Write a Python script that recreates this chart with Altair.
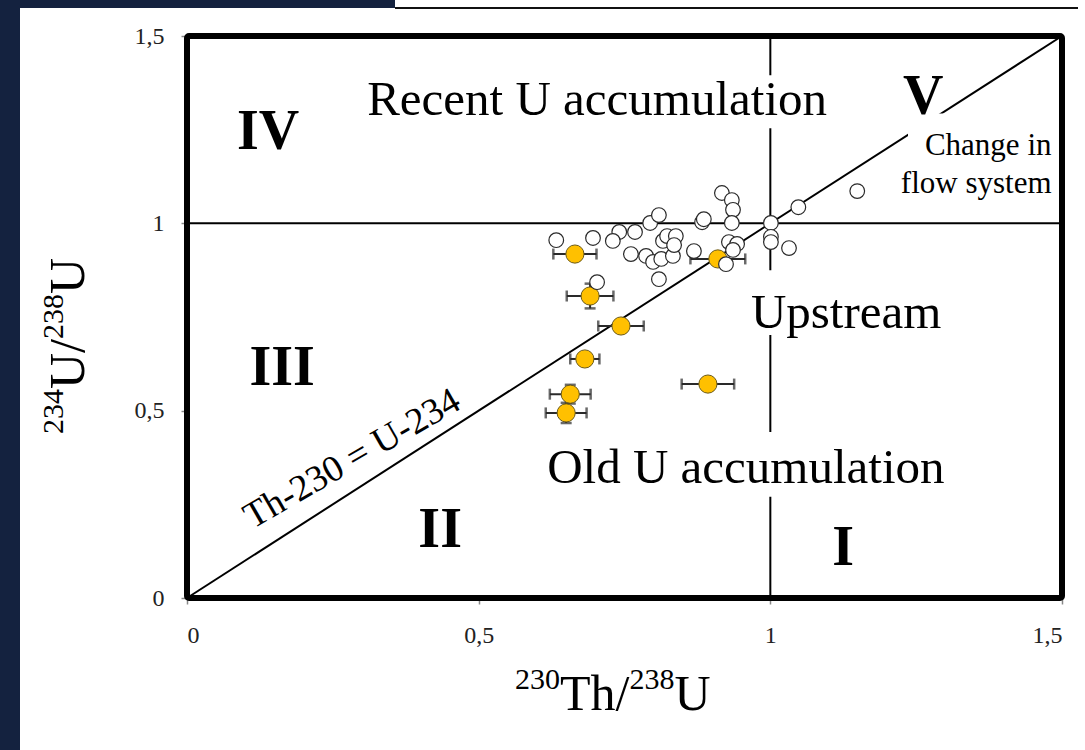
import altair as alt
import pandas as pd

# ---------------- data ----------------
# samples with error bars (orange)
th_orange = [0.665, 0.691, 0.744, 0.682, 0.657, 0.650, 0.893, 0.910]
u_orange = [0.918, 0.806, 0.726, 0.638, 0.544, 0.494, 0.571, 0.905]
th_err = [0.037, 0.040, 0.039, 0.025, 0.035, 0.035, 0.045, 0.047]
u_err = [0.0, 0.033, 0.0, 0.0, 0.025, 0.027, 0.0, 0.0]

# other samples (open circles)
th_open = [0.633, 0.696, 0.741, 0.730, 0.768, 0.794, 0.809, 0.761, 0.787, 0.799,
           0.813, 0.833, 0.816, 0.823, 0.838, 0.835, 0.809, 0.869, 0.883, 0.886,
           0.917, 0.934, 0.936, 0.934, 0.929, 0.943, 0.936, 0.924, 1.001, 1.001,
           1.001, 1.032, 1.048, 1.149, 0.703]
u_open = [0.955, 0.961, 0.977, 0.953, 0.977, 1.001, 1.022, 0.918, 0.913, 0.897,
          0.905, 0.913, 0.953, 0.966, 0.966, 0.942, 0.851, 0.926, 1.003, 1.011,
          1.081, 1.062, 1.036, 1.001, 0.950, 0.945, 0.929, 0.891, 1.001, 0.964,
          0.950, 0.934, 1.043, 1.086, 0.843]

# reference lines
line_x1 = [0.0, 1.0, 0.0]
line_y1 = [1.0, 0.0, 0.0]
line_x2 = [1.5, 1.0, 1.5]
line_y2 = [1.0, 1.5, 1.5]

# region labels
big_text = ["Recent U accumulation", "Upstream", "Old U accumulation"]
big_x = [0.703, 1.130, 0.958]
big_y = [1.329, 0.761, 0.347]

roman_text = ["IV", "V", "III", "II", "I"]
roman_x = [0.139, 1.262, 0.163, 0.434, 1.125]
roman_y = [1.244, 1.337, 0.614, 0.181, 0.133]

small_text = ["Change in", "flow system"]
small_x = [1.482, 1.482]
small_y = [1.206, 1.105]

diag_text = ["Th-230 = U-234"]
diag_x = [0.283]
diag_y = [0.371]

# white boxes behind the labels
box_x1 = [0.288, 0.957, 0.600, 1.236]
box_x2 = [1.116, 1.300, 1.300, 1.490]
box_y1 = [1.254, 0.702, 0.270, 1.062]
box_y2 = [1.395, 0.875, 0.443, 1.293]

x_ticks = [0, 0.5, 1, 1.5]
y_ticks = [0, 0.5, 1, 1.5]

# axis titles, split into mass numbers (superscript) and symbols
x_title_parts = ["230", "Th/", "238", "U"]
y_title_parts = ["234", "U/", "238", "U"]
title_is_sup = [True, False, True, False]

FONT = "Liberation Serif"
SUP_SIZE = 30
BIG_SIZE = 50

# ---------------- tables ----------------
orange = pd.DataFrame({"th": th_orange, "u": u_orange, "ex": th_err, "ey": u_err})
orange["th_lo"] = orange.th - orange.ex
orange["th_hi"] = orange.th + orange.ex
orange["u_lo"] = orange.u - orange.ey
orange["u_hi"] = orange.u + orange.ey
orange_v = orange[orange.ey > 0]
open_df = pd.DataFrame({"th": th_open, "u": u_open})
lines = pd.DataFrame({"x": line_x1, "y": line_y1, "x2": line_x2, "y2": line_y2})
boxes = pd.DataFrame({"x": box_x1, "x2": box_x2, "y": box_y1, "y2": box_y2})
big = pd.DataFrame({"x": big_x, "y": big_y, "t": big_text})
roman = pd.DataFrame({"x": roman_x, "y": roman_y, "t": roman_text})
small = pd.DataFrame({"x": small_x, "y": small_y, "t": small_text})
diag = pd.DataFrame({"x": diag_x, "y": diag_y, "t": diag_text})
frame = pd.DataFrame({"x": [0.0], "x2": [1.5], "y": [0.0], "y2": [1.5]})

xscale = alt.Scale(domain=[0, 1.5], nice=False, zero=False)
yscale = alt.Scale(domain=[0, 1.5], nice=False, zero=False)

label_expr = "replace(toString(datum.value), '.', ',')"

X = alt.X("x:Q", scale=xscale, axis=alt.Axis(values=x_ticks, labelExpr=label_expr, title=""))
Y = alt.Y("y:Q", scale=yscale, axis=alt.Axis(values=y_ticks, labelExpr=label_expr, title=""))

# ---------------- decorative slide frame ----------------
dark = "#14223f"
left_strip = alt.Chart(frame).mark_rect(color=dark).encode(
    x=alt.value(-187), x2=alt.value(-167), y=alt.value(-36), y2=alt.value(714))
top_strip = alt.Chart(frame).mark_rect(color=dark).encode(
    x=alt.value(-187), x2=alt.value(208), y=alt.value(-36), y2=alt.value(-28))
top_line = alt.Chart(frame).mark_rule(color="#111", strokeWidth=2).encode(
    x=alt.value(208), x2=alt.value(891), y=alt.value(-28))

# ---------------- axis titles with superscripts ----------------
def width_of(txt, size):
    w = {"0": .5, "2": .5, "3": .5, "4": .5, "8": .5, "T": .611, "h": .5, "/": .278, "U": .722}
    return sum(w[c] for c in txt) * size

title_layers = []
# x title: laid out left to right, plot origin at (187, 36)
cx = 515 - 187
for part, sup in zip(x_title_parts, title_is_sup):
    size = SUP_SIZE if sup else BIG_SIZE
    base_y = (689 if sup else 710) - 36
    title_layers.append(alt.Chart(frame).mark_text(
        text=part, font=FONT, fontSize=size, color="black", align="left", baseline="alphabetic"
    ).encode(x=alt.value(cx), y=alt.value(base_y)))
    cx += width_of(part, size)
# y title: rotated, laid out bottom to top
cy = 434 - 36
for part, sup in zip(y_title_parts, title_is_sup):
    size = SUP_SIZE if sup else BIG_SIZE
    base_x = (63 if sup else 84) - 187
    title_layers.append(alt.Chart(frame).mark_text(
        text=part, font=FONT, fontSize=size, color="black", align="left", baseline="alphabetic",
        angle=270
    ).encode(x=alt.value(base_x), y=alt.value(cy)))
    cy -= width_of(part, size)

# ---------------- chart layers ----------------
ref_lines = alt.Chart(lines).mark_rule(color="black", strokeWidth=2).encode(
    x=X, y=Y, x2="x2:Q", y2="y2:Q")

white_boxes = alt.Chart(boxes).mark_rect(color="white").encode(
    x=alt.X("x:Q", scale=xscale), x2="x2:Q",
    y=alt.Y("y:Q", scale=yscale), y2="y2:Q")

big_labels = alt.Chart(big).mark_text(font=FONT, fontSize=49, color="black",
                                      align="center", baseline="middle").encode(
    x=alt.X("x:Q", scale=xscale), y=alt.Y("y:Q", scale=yscale), text="t:N")
roman_labels = alt.Chart(roman).mark_text(font=FONT, fontSize=56, fontWeight="bold",
                                          color="black", align="center", baseline="middle").encode(
    x=alt.X("x:Q", scale=xscale), y=alt.Y("y:Q", scale=yscale), text="t:N")
small_labels = alt.Chart(small).mark_text(font=FONT, fontSize=31, color="black",
                                          align="right", baseline="middle").encode(
    x=alt.X("x:Q", scale=xscale), y=alt.Y("y:Q", scale=yscale), text="t:N")
diag_label = alt.Chart(diag).mark_text(font=FONT, fontSize=37, color="black", angle=330,
                                       align="center", baseline="middle").encode(
    x=alt.X("x:Q", scale=xscale), y=alt.Y("y:Q", scale=yscale), text="t:N")

ebar_color = "#2a2a2a"
h_bars = alt.Chart(orange).mark_rule(color=ebar_color, strokeWidth=2).encode(
    x=alt.X("th_lo:Q", scale=xscale), x2="th_hi:Q", y=alt.Y("u:Q", scale=yscale))
h_cap_lo = alt.Chart(orange).mark_tick(color=ebar_color, orient="vertical", size=11, thickness=2.5).encode(
    x=alt.X("th_lo:Q", scale=xscale), y=alt.Y("u:Q", scale=yscale))
h_cap_hi = alt.Chart(orange).mark_tick(color=ebar_color, orient="vertical", size=11, thickness=2.5).encode(
    x=alt.X("th_hi:Q", scale=xscale), y=alt.Y("u:Q", scale=yscale))
v_bars = alt.Chart(orange_v).mark_rule(color=ebar_color, strokeWidth=2).encode(
    x=alt.X("th:Q", scale=xscale), y=alt.Y("u_lo:Q", scale=yscale), y2="u_hi:Q")
v_cap_lo = alt.Chart(orange_v).mark_tick(color=ebar_color, orient="horizontal", size=11, thickness=2.5).encode(
    x=alt.X("th:Q", scale=xscale), y=alt.Y("u_lo:Q", scale=yscale))
v_cap_hi = alt.Chart(orange_v).mark_tick(color=ebar_color, orient="horizontal", size=11, thickness=2.5).encode(
    x=alt.X("th:Q", scale=xscale), y=alt.Y("u_hi:Q", scale=yscale))

orange_pts = alt.Chart(orange).mark_point(shape="circle", filled=True, size=330, fill="#FFC000",
                                          stroke="#6b5a1a", strokeWidth=1, opacity=1).encode(
    x=alt.X("th:Q", scale=xscale), y=alt.Y("u:Q", scale=yscale))
open_pts = alt.Chart(open_df).mark_point(shape="circle", filled=True, size=215, fill="white",
                                         stroke="#2a2a2a", strokeWidth=1.2, opacity=1).encode(
    x=alt.X("th:Q", scale=xscale), y=alt.Y("u:Q", scale=yscale))

border = alt.Chart(frame).mark_rect(filled=False, stroke="black", strokeWidth=6, cornerRadius=2).encode(
    x=alt.X("x:Q", scale=xscale), x2="x2:Q", y=alt.Y("y:Q", scale=yscale), y2="y2:Q")

chart = alt.layer(
    left_strip, top_strip, top_line,
    ref_lines, white_boxes,
    big_labels, roman_labels, small_labels, diag_label,
    h_bars, h_cap_lo, h_cap_hi, v_bars, v_cap_lo, v_cap_hi,
    orange_pts, open_pts, border,
    *title_layers,
).properties(
    width=875, height=562,
    padding={"left": 187, "top": 36, "right": 23, "bottom": 152},
    autosize=alt.AutoSizeParams(type="none"),
    background="white",
).configure_view(stroke=None).configure_axis(
    grid=False, domain=False,
    tickColor="#888888", tickSize=6, tickWidth=1.5,
    labelFont=FONT, labelFontSize=24, labelColor="#222222", labelPadding=17,
).configure_axisX(labelPadding=19)

chart.save("out.html", embed_options={"renderer": "svg", "actions": False})
